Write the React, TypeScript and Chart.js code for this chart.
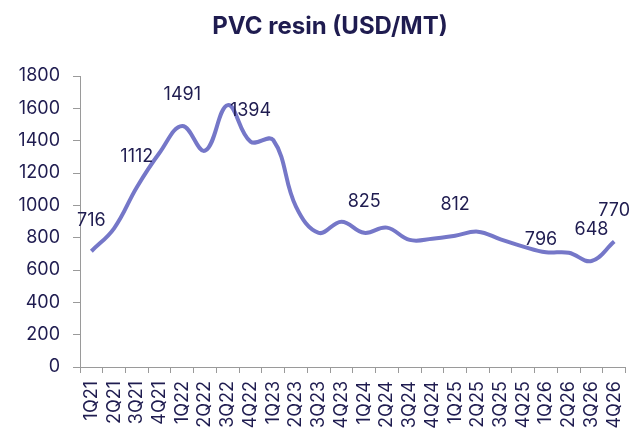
import React, { useEffect, useRef } from "react";
import { Chart, registerables } from "chart.js";

Chart.register(...registerables);

const quarters = [
  "1Q21", "2Q21", "3Q21", "4Q21",
  "1Q22", "2Q22", "3Q22", "4Q22",
  "1Q23", "2Q23", "3Q23", "4Q23",
  "1Q24", "2Q24", "3Q24", "4Q24",
  "1Q25", "2Q25", "3Q25", "4Q25",
  "1Q26", "2Q26", "3Q26", "4Q26",
];

const pvcPrice = [
  716, 858, 1112, 1325,
  1491, 1338, 1620, 1394,
  1404, 992, 830, 899,
  830, 862, 786, 793,
  812, 837, 790, 745,
  710, 707, 656, 776,
];

const pointLabels: (string | null)[] = [
  "716", null, "1112", null,
  "1491", null, null, "1394",
  null, null, null, null,
  "825", null, null, null,
  "812", null, null, null,
  "796", null, "648", "770",
];

const yTicksMin = 0;
const yTicksMax = 1800;
const yTicksStep = 200;

const TITLE = "PVC resin (USD/MT)";
const TEXT_COLOR = "#1f1c50";
const LINE_COLOR = "#7577c8";
const AXIS_COLOR = "#9a9a9a";
const FONT = "Inter, 'DejaVu Sans', sans-serif";
const FONT_SIZE = 18;

export default function App() {
  const ref = useRef<HTMLCanvasElement | null>(null);

  useEffect(() => {
    if (!ref.current) return;

    const titlePlugin = {
      id: "customTitle",
      afterDraw(chart: any) {
        const ctx = chart.ctx;
        ctx.save();
        ctx.font = `bold 24px ${FONT}`;
        ctx.fillStyle = TEXT_COLOR;
        ctx.textAlign = "center";
        ctx.textBaseline = "alphabetic";
        ctx.fillText(TITLE, 330, 34);
        ctx.restore();
      },
    };

    const labelPlugin = {
      id: "pointLabels",
      afterDatasetsDraw(chart: any) {
        const ctx = chart.ctx;
        const meta = chart.getDatasetMeta(0);
        ctx.save();
        ctx.font = `${FONT_SIZE}px ${FONT}`;
        ctx.fillStyle = TEXT_COLOR;
        ctx.textAlign = "center";
        ctx.textBaseline = "middle";
        pointLabels.forEach((txt, i) => {
          if (!txt) return;
          const pt = meta.data[i];
          let dx = 0;
          let dy = 31;
          if (quarters[i] === "1Q26") {
            dx = -5;
            dy = 13;
          }
          ctx.fillText(txt, pt.x + dx, pt.y - dy);
        });
        ctx.restore();
      },
    };

    const chart = new Chart(ref.current, {
      type: "line",
      data: {
        labels: quarters,
        datasets: [
          {
            data: pvcPrice,
            borderColor: LINE_COLOR,
            borderWidth: 4,
            tension: 0.4,
            pointRadius: 0,
            fill: false,
          },
        ],
      },
      options: {
        responsive: false,
        animation: false,
        devicePixelRatio: 1,
        layout: { padding: { top: 76, right: 8, left: 0, bottom: 0 } },
        plugins: {
          legend: { display: false },
          title: { display: false },
          tooltip: { enabled: false },
        },
        scales: {
          x: {
            type: "category",
            offset: true,
            grid: {
              offset: true,
              drawOnChartArea: false,
              drawTicks: true,
              tickLength: 6,
              color: AXIS_COLOR,
            },
            border: { display: true, color: AXIS_COLOR, width: 1 },
            ticks: {
              minRotation: 90,
              maxRotation: 90,
              autoSkip: false,
              padding: 8,
              color: TEXT_COLOR,
              font: { family: FONT, size: FONT_SIZE },
            },
            afterFit: (s: any) => {
              s.height = 67;
            },
          },
          y: {
            min: yTicksMin,
            max: yTicksMax,
            grid: {
              drawOnChartArea: false,
              drawTicks: true,
              tickLength: 7,
              color: AXIS_COLOR,
            },
            border: { display: true, color: AXIS_COLOR, width: 1 },
            ticks: {
              stepSize: yTicksStep,
              padding: 13,
              color: TEXT_COLOR,
              font: { family: FONT, size: FONT_SIZE },
              callback: (v: any) => String(v),
            },
            afterFit: (s: any) => {
              s.width = 80;
            },
          },
        },
      },
      plugins: [titlePlugin, labelPlugin],
    });

    return () => chart.destroy();
  }, []);

  return (
    <div style={{ position: "fixed", left: 0, top: 0, width: 644, height: 434, background: "#fff" }}>
      <canvas ref={ref} width={644} height={434} style={{ display: "block" }} />
    </div>
  );
}
